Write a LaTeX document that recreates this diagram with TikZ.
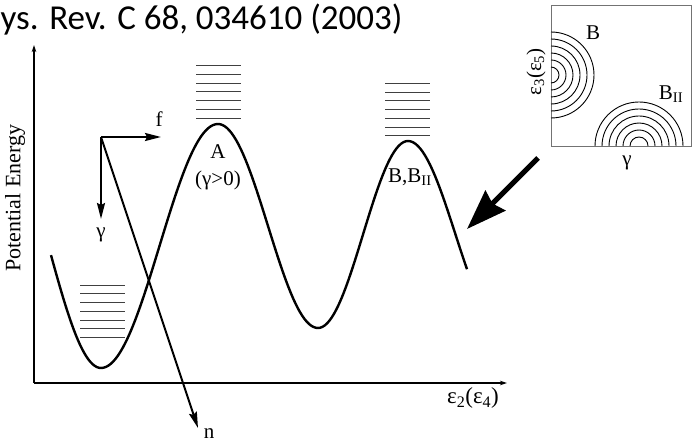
\documentclass[tikz,border=0pt]{standalone}
\usepackage{fontspec}
\setmainfont{Liberation Serif}
\newfontfamily\titlefont{Carlito}
\usetikzlibrary{arrows.meta}
\begin{document}
\begin{tikzpicture}[x=1pt,y=-1pt,
  axisline/.style={line width=1.1pt,-{Stealth[length=7pt,width=4.5pt]}},
  curve/.style={line width=2.4pt,line join=round},
  level/.style={line width=1pt,black!75},
  vec/.style={line width=2pt,-{Stealth[length=16pt,width=8pt,inset=2pt]}},
  bigarrow/.style={line width=5pt,-{Stealth[length=40pt,width=28pt,inset=4pt]}},
  lbl/.style={font=\fontsize{21}{23}\selectfont,inner sep=0pt},
  ring/.style={line width=0.9pt}]
\useasboundingbox (0,0) rectangle (692,446);

% title
\node[font=\titlefont\fontsize{35}{40}\selectfont,anchor=base west,inner sep=0pt] (title) at (0.5,30) {ys. Rev. C 68, 034610 (2003)};

% axes
\coordinate (org) at (34,383);
\coordinate (ytip) at (34,45);
\coordinate (xtip) at (507,383);
\draw[axisline] (org) -- (ytip);
\draw[axisline] (org) -- (xtip);
\node[rotate=90,font=\fontsize{22}{24}\selectfont,inner sep=0pt] (pe) at (15,198) {Potential Energy};
\node[lbl,font=\fontsize{23}{25}\selectfont] (xl) at (473,398) {ε\textsubscript{2}(ε\textsubscript{4})};

% potential curve
\draw[curve]
  plot[domain=51:101,samples=25] (\x,{246+122*cos(1.7143*(\x-101))})
  -- plot[domain=101:218,samples=50] (\x,{246+122*cos(1.5385*(\x-101))})
  -- plot[domain=218:318,samples=45] (\x,{226-102*cos(1.8*(\x-218))})
  -- plot[domain=318:408,samples=40] (\x,{234.5+93.5*cos(2*(\x-318))})
  -- plot[domain=408:467,samples=25] (\x,{234.5-93.5*cos(1.8947*(\x-408))});

% energy levels
\foreach \i in {0,...,6} {
  \draw[level] (80,{285+8.75*\i}) -- (125,{285+8.75*\i});
  \draw[level] (196,{65.7+8.75*\i}) -- (241,{65.7+8.75*\i});
  \draw[level] (385,{83.3+8.75*\i}) -- (430,{83.3+8.75*\i});
}

% labels on curve
\node[lbl] (la) at (218,152) {A};
\node[lbl] (lg) at (218,180) {(γ>0)};
\node[lbl] (lb) at (410,177) {B,B\textsubscript{II}};

% deformation vectors
\coordinate (o) at (101,137);
\coordinate (fe) at (161,137);
\coordinate (ge) at (101,219);
\coordinate (ne) at (198,428);
\draw[vec] (o) -- (fe);
\draw[vec] (o) -- (ge);
\draw[vec] (o) -- (ne);
\node[lbl] (lf) at (159,119) {f};
\node[lbl] (lgam) at (101,235) {γ};
\node[lbl] (ln) at (209,434) {n};

% inset
\node[draw=black!55,line width=1.3pt,minimum width=140pt,minimum height=141pt,inner sep=0pt,anchor=north west] (box) at (551,5) {};
\foreach \r in {8,15,22,29,36,43}
  \draw[ring] (551,75-\r) arc[start angle=90,end angle=-90,radius=\r pt];
\foreach \r in {9,16,23,30,37,44}
  \draw[ring] (639-\r,146) arc[start angle=180,end angle=0,radius=\r pt];
\node[lbl] (ib) at (593,33) {B};
\node[lbl] (ib2) at (671,94) {B\textsubscript{II}};
\node[lbl] (igam) at (627,163) {γ};
\node[lbl,rotate=90,font=\fontsize{21}{23}\selectfont] (ieps) at (536,72) {ε\textsubscript{3}(ε\textsubscript{5})};

% big arrow
\coordinate (bs) at (538,158);
\coordinate (be) at (467,229);
\draw[bigarrow] (bs) -- (be);
\end{tikzpicture}
\end{document}
